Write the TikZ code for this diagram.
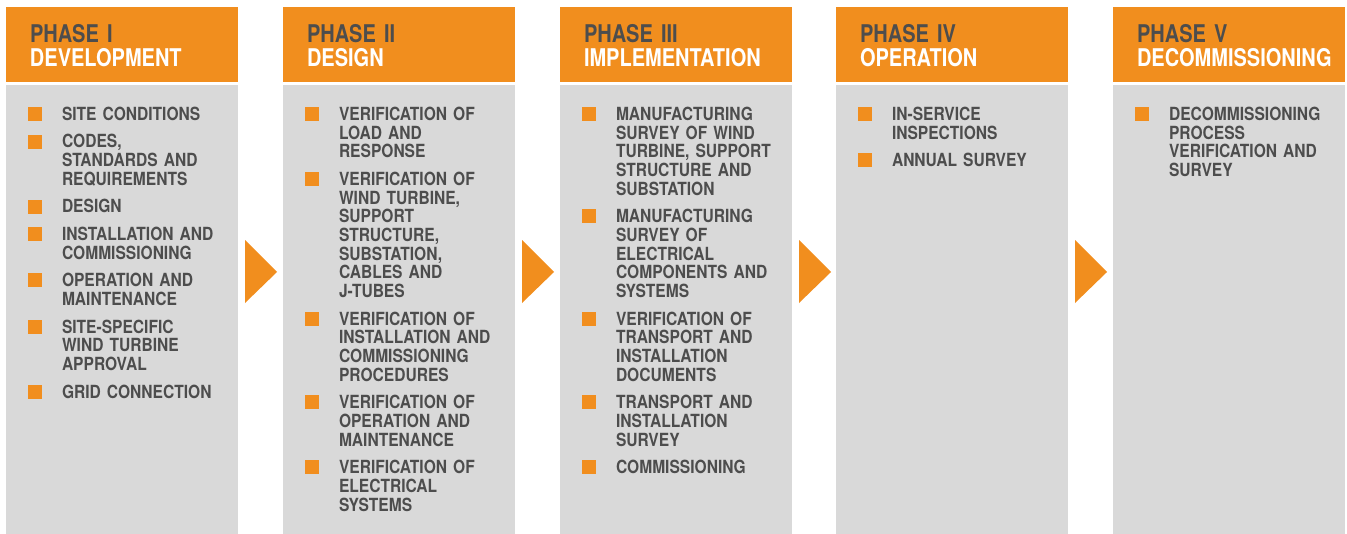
\documentclass[tikz,border=0pt]{standalone}
\usepackage{fontspec}
\setmainfont{TeX Gyre Heros}
\newfontfamily\phasefont[FakeStretch=0.82]{TeX Gyre Heros}
\newfontfamily\taskfont[FakeStretch=0.86]{TeX Gyre Heros}
\usetikzlibrary{positioning}
\definecolor{phaseorange}{RGB}{241,142,30}
\definecolor{panelgrey}{RGB}{217,217,217}
\definecolor{inkgrey}{RGB}{77,77,77}
% fixed struts, so every line is one baselineskip
\newcommand{\titlestrut}{\lineskiplimit=-6pt\rule[-3.6pt]{0pt}{12pt}}
\newcommand{\taskstrut}{\lineskiplimit=-6pt\rule[-2.805pt]{0pt}{9.35pt}}
\tikzset{
  headbox/.style={fill=phaseorange, inner sep=0, minimum width=116pt, minimum height=37.5pt},
  bodybox/.style={fill=panelgrey, inner sep=0, minimum width=116pt, minimum height=224.5pt},
  title/.style={anchor=north west, inner sep=0, text=white, text width=112pt, align=left,
    font=\phasefont\bfseries\fontsize{12.2}{12}\selectfont, execute at begin node=\titlestrut},
  task/.style={inner sep=0, text=inkgrey, text width=100pt, align=left,
    font=\taskfont\bfseries\fontsize{9.05}{9.35}\selectfont,
    execute at begin node=\taskstrut, execute at end node=\taskstrut},
  tick/.style={fill=phaseorange, inner sep=0, minimum size=7pt},
  nextarrow/.style={fill=phaseorange},
}
\begin{document}
\begin{tikzpicture}[x=0.5pt, y=-0.5pt, node distance=3.9pt]
  \useasboundingbox (0,0) rectangle (1347,534);
  % column boxes, 232 wide
  \node[headbox] (h1) at (122,44.5) {};
  \node[headbox] (h2) at (399,44.5) {};
  \node[headbox] (h3) at (676,44.5) {};
  \node[headbox] (h4) at (952,44.5) {};
  \node[headbox] (h5) at (1229,44.5) {};
  \node[bodybox] (b1) at (122,309.5) {};
  \node[bodybox] (b2) at (399,309.5) {};
  \node[bodybox] (b3) at (676,309.5) {};
  \node[bodybox] (b4) at (952,309.5) {};
  \node[bodybox] (b5) at (1229,309.5) {};
  % arrows between columns
  \fill[nextarrow] (245,240) -- (277,272) -- (245,303) -- cycle;
  \fill[nextarrow] (522,240) -- (554,272) -- (522,303) -- cycle;
  \fill[nextarrow] (799,240) -- (831,272) -- (799,303) -- cycle;
  \fill[nextarrow] (1075,240) -- (1107,272) -- (1075,303) -- cycle;
  % titles
  \node[title] (t1) at ([xshift=12pt,yshift=-8.6pt]h1.north west) {\textcolor{inkgrey}{PHASE I}\\DEVELOPMENT};
  \node[title] (t2) at ([xshift=12pt,yshift=-8.6pt]h2.north west) {\textcolor{inkgrey}{PHASE II}\\DESIGN};
  \node[title] (t3) at ([xshift=12pt,yshift=-8.6pt]h3.north west) {\textcolor{inkgrey}{PHASE III}\\IMPLEMENTATION};
  \node[title] (t4) at ([xshift=12pt,yshift=-8.6pt]h4.north west) {\textcolor{inkgrey}{PHASE IV}\\OPERATION};
  \node[title] (t5) at ([xshift=12pt,yshift=-8.6pt]h5.north west) {\textcolor{inkgrey}{PHASE V}\\DECOMMISSIONING};
  % phase I
  \node[task, anchor=north west] (i11) at ([xshift=28pt,yshift=-10.95pt]b1.north west) {SITE CONDITIONS};
  \node[task, below=of i11] (i12) {CODES,\\STANDARDS AND\\REQUIREMENTS};
  \node[task, below=of i12] (i13) {DESIGN};
  \node[task, below=of i13] (i14) {INSTALLATION AND\\COMMISSIONING};
  \node[task, below=of i14] (i15) {OPERATION AND\\MAINTENANCE};
  \node[task, below=of i15] (i16) {SITE-SPECIFIC\\WIND TURBINE\\APPROVAL};
  \node[task, below=of i16] (i17) {GRID CONNECTION};
  % phase II
  \node[task, anchor=north west] (i21) at ([xshift=28pt,yshift=-10.95pt]b2.north west) {VERIFICATION OF\\LOAD AND\\RESPONSE};
  \node[task, below=of i21] (i22) {VERIFICATION OF\\WIND TURBINE,\\SUPPORT\\STRUCTURE,\\SUBSTATION,\\CABLES AND\\J-TUBES};
  \node[task, below=of i22] (i23) {VERIFICATION OF\\INSTALLATION AND\\COMMISSIONING\\PROCEDURES};
  \node[task, below=of i23] (i24) {VERIFICATION OF\\OPERATION AND\\MAINTENANCE};
  \node[task, below=of i24] (i25) {VERIFICATION OF\\ELECTRICAL\\SYSTEMS};
  % phase III
  \node[task, anchor=north west] (i31) at ([xshift=28pt,yshift=-10.95pt]b3.north west) {MANUFACTURING\\SURVEY OF WIND\\TURBINE, SUPPORT\\STRUCTURE AND\\SUBSTATION};
  \node[task, below=of i31] (i32) {MANUFACTURING\\SURVEY OF\\ELECTRICAL\\COMPONENTS AND\\SYSTEMS};
  \node[task, below=of i32] (i33) {VERIFICATION OF\\TRANSPORT AND\\INSTALLATION\\DOCUMENTS};
  \node[task, below=of i33] (i34) {TRANSPORT AND\\INSTALLATION\\SURVEY};
  \node[task, below=of i34] (i35) {COMMISSIONING};
  % phase IV
  \node[task, anchor=north west] (i41) at ([xshift=28pt,yshift=-10.95pt]b4.north west) {IN-SERVICE\\INSPECTIONS};
  \node[task, below=of i41] (i42) {ANNUAL SURVEY};
  % phase V
  \node[task, anchor=north west] (i51) at ([xshift=28pt,yshift=-10.95pt]b5.north west) {DECOMMISSIONING\\PROCESS\\VERIFICATION AND\\SURVEY};
  % bullets
  \node[tick, below left=0pt and 9.5pt of i11.north west] (k11) {};
  \node[tick, below left=0pt and 9.5pt of i12.north west] (k12) {};
  \node[tick, below left=0pt and 9.5pt of i13.north west] (k13) {};
  \node[tick, below left=0pt and 9.5pt of i14.north west] (k14) {};
  \node[tick, below left=0pt and 9.5pt of i15.north west] (k15) {};
  \node[tick, below left=0pt and 9.5pt of i16.north west] (k16) {};
  \node[tick, below left=0pt and 9.5pt of i17.north west] (k17) {};
  \node[tick, below left=0pt and 9.5pt of i21.north west] (k21) {};
  \node[tick, below left=0pt and 9.5pt of i22.north west] (k22) {};
  \node[tick, below left=0pt and 9.5pt of i23.north west] (k23) {};
  \node[tick, below left=0pt and 9.5pt of i24.north west] (k24) {};
  \node[tick, below left=0pt and 9.5pt of i25.north west] (k25) {};
  \node[tick, below left=0pt and 9.5pt of i31.north west] (k31) {};
  \node[tick, below left=0pt and 9.5pt of i32.north west] (k32) {};
  \node[tick, below left=0pt and 9.5pt of i33.north west] (k33) {};
  \node[tick, below left=0pt and 9.5pt of i34.north west] (k34) {};
  \node[tick, below left=0pt and 9.5pt of i35.north west] (k35) {};
  \node[tick, below left=0pt and 9.5pt of i41.north west] (k41) {};
  \node[tick, below left=0pt and 9.5pt of i42.north west] (k42) {};
  \node[tick, below left=0pt and 9.5pt of i51.north west] (k51) {};
\end{tikzpicture}
\end{document}
